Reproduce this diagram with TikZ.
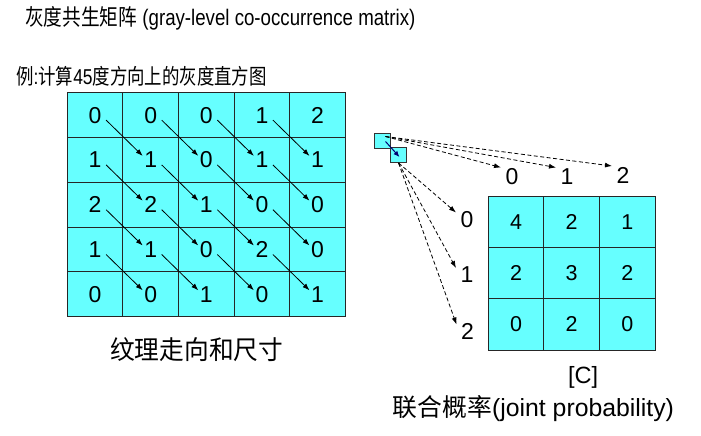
\documentclass[tikz,border=0pt]{standalone}
\usepackage{fontspec}
\setmainfont{Liberation Sans}
\newfontfamily\cjk{Noto Sans CJK SC}
\usetikzlibrary{arrows.meta, calc}
\definecolor{cellcyan}{RGB}{102,255,255}

\begin{document}
\begin{tikzpicture}[
  x=1pt, y=-1pt,
  cell/.style  = {rectangle, draw=black!85, line width=0.9pt, fill=cellcyan,
                  minimum width=55.6pt, minimum height=44.8pt, inner sep=0pt,
                  font=\fontsize{23}{23}\selectfont},
  ccell/.style = {cell, minimum height=51.3pt, font=\fontsize{21.5}{21.5}\selectfont},
  small/.style = {rectangle, draw=black!80, line width=0.8pt, fill=cellcyan,
                  minimum width=16pt, minimum height=15pt, inner sep=0pt},
  lbl/.style   = {inner sep=0pt, font=\fontsize{23}{23}\selectfont},
  txt/.style   = {anchor=west, inner sep=0pt},
  arr/.style   = {-{Latex[length=7pt,width=5pt]}, line width=0.8pt},
  darr/.style  = {arr, dash pattern=on 4pt off 2.5pt},
]
\useasboundingbox (0,0) rectangle (701,436);

%% titles
\node[txt, font=\fontsize{22.5}{24}\selectfont] (title) at (25,18.5)
    {\scalebox{0.83}[1]{{\cjk 灰度共生矩阵} (gray-level co-occurrence matrix)}};
\node[txt, font=\fontsize{21.5}{24}\selectfont] (task) at (16,76)
    {\scalebox{0.81}[1]{{\cjk 例}:{\cjk 计算}45{\cjk 度方向上的灰度直方图}}};

%% image grid
\foreach \row [count=\r from 0] in {{0,0,0,1,2},{1,1,0,1,1},{2,2,1,0,0},{1,1,0,2,0},{0,0,1,0,1}}
  \foreach \v [count=\c from 0] in \row
    \node[cell] (L-\r-\c) at ({95.1+55.6*\c},{115.1+44.8*\r}) {\v};

%% 45 degree neighbours
\foreach \r in {0,...,3}
  \foreach \c in {0,...,3} {
    \pgfmathtruncatemacro\rn{\r+1}
    \pgfmathtruncatemacro\cn{\c+1}
    \draw[arr] ($(L-\r-\c)+(11,5)$) -- ($(L-\rn-\cn)+(-8,-4)$);
  }

\node[txt, font=\fontsize{26}{28}\selectfont\cjk] (texture) at (110,350)
    {\scalebox{0.95}[1]{纹理走向和尺寸}};

%% pixel pair
\node[small] (sq1) at (382.5,140.5) {};
\node[small] (sq2) at (398.5,155) {};
\draw[-{Latex[length=6pt,width=5pt]}, line width=1pt, blue!45!black]
    ($(sq1)+(3,1)$) -- ($(sq2)+(1,2)$);

%% co-occurrence matrix
\foreach \row [count=\r from 0] in {{4,2,1},{2,3,2},{0,2,0}}
  \foreach \v [count=\c from 0] in \row
    \node[ccell] (C-\r-\c) at ({516.1+55.6*\c},{221.7+51.3*\r}) {\v};

\node[lbl] (col0) at (512,176.5) {0};
\node[lbl] (col1) at (567,176.5) {1};
\node[lbl] (col2) at (623,175)   {2};
\node[lbl] (row0) at (467,219.5) {0};
\node[lbl] (row1) at (467,275)   {1};
\node[lbl] (row2) at (467.5,331.5) {2};

\foreach \k in {0,1,2} {
  \draw[darr] ($(sq1)+(3,-4)$) -- ($(col\k)+(-11,-9)$);
  \draw[darr] (sq2.south) -- ($(row\k)+(-11,-7)$);
}

\node[txt, font=\fontsize{23.5}{24}\selectfont] (cname) at (568,377) {[C]};
\node[txt, font=\fontsize{24.8}{26}\selectfont] (joint) at (392.7,409)
    {{\cjk 联合概率}(joint probability)};
\end{tikzpicture}
\end{document}
